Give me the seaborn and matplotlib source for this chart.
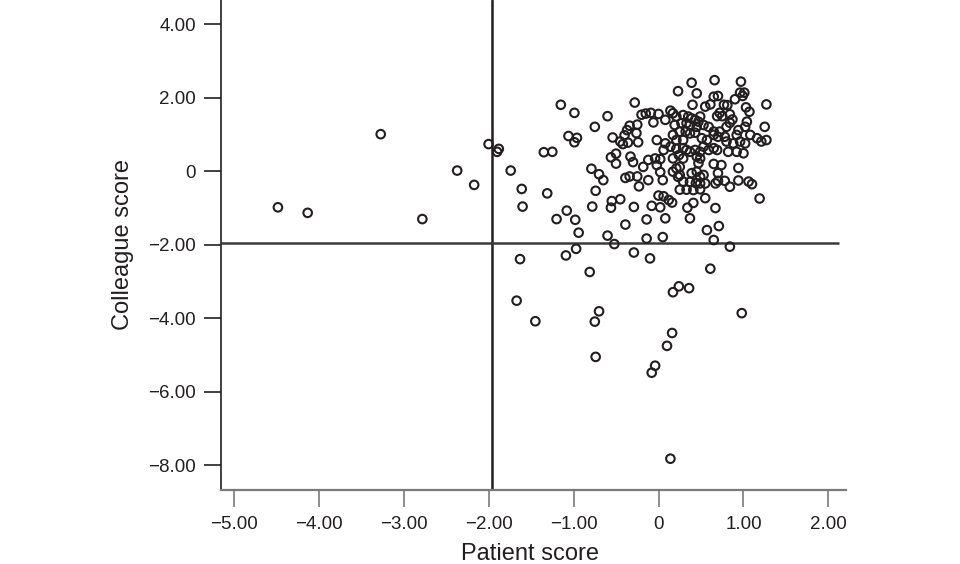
import matplotlib
matplotlib.use("Agg")
import matplotlib.pyplot as plt
import matplotlib.ticker as mticker
import seaborn as sns
import pandas as pd

# ---- data ----
patient_score = [
    -4.48, -4.13, -3.27, -2.78, -2.37, -2.17, -2.00, -1.88, -1.90, -1.74,
    -1.61, -1.60, -1.63, -1.67, -1.45, -1.35, -1.25, -1.31, -1.20, -1.08,
    -0.98, -0.94, -0.97, -1.09, -1.15, -0.99, -1.06, -0.96, -0.99, -0.79,
    -0.70, -0.65, -0.74, -0.78, -0.55, -0.45, -0.56, -0.60, -0.52, -0.81,
    -0.70, -0.75, -0.74, -0.60, -0.75, -0.28, -0.54, -0.45, -0.42, -0.36,
    -0.40, -0.37, -0.34, -0.26, -0.25, -0.24, -0.56, -0.50, -0.50, -0.33,
    -0.30, -0.20, -0.15, -0.09, -0.06, 0.00, -0.12, -0.04, -0.02, -0.18,
    -0.39, -0.34, -0.25, -0.23, -0.12, 0.02, 0.05, -0.29, -0.39, -0.08,
    0.02, -0.14, 0.08, 0.00, 0.06, 0.12, 0.16, 0.34, 0.41, 0.37,
    0.25, 0.33, 0.41, 0.49, 0.23, 0.29, 0.37, 0.44, 0.17, 0.25,
    0.21, 0.25, -0.14, 0.05, -0.29, -0.10, 0.24, 0.36, 0.17, 0.16,
    0.10, -0.04, -0.08, 0.14, 0.61, 0.84, 0.98, 0.57, 0.71, 0.65,
    0.55, 0.67, 1.19, 0.39, 0.45, 0.49, 0.53, 0.55, 0.49, 0.65,
    0.74, 0.70, 0.67, 0.70, 0.78, 0.94, 0.94, 1.06, 1.10, 0.84,
    0.39, 0.66, 0.97, 0.23, 0.45, 0.65, 0.70, 0.96, 1.01, 0.99,
    0.90, 0.40, 0.61, 0.55, 0.77, 0.81, 1.03, 1.07, 1.27, 0.72,
    0.75, 0.69, 0.84, 0.87, 0.08, 0.14, 0.17, 0.29, 0.35, 0.39,
    0.43, 0.47, 0.49, 0.27, 0.33, 0.37, 0.45, 0.53, 0.21, 0.19,
    0.25, 0.32, 0.37, 0.43, 0.84, 1.04, 1.02, 1.25, 0.59, 0.65,
    0.72, 0.80, 0.94, 0.92, 1.08, 1.16, 1.21, 1.27, 0.51, 0.57,
    0.65, 0.70, 0.78, 0.80, 0.88, 0.96, 1.02, 0.17, 0.21, 0.29,
    -0.02, 0.08, 0.14, 0.06, 0.29, 0.33, 0.37, 0.43, 0.49, 0.53,
    0.59, 0.65, 0.69, 0.82, 0.92, 1.00, 0.02, 0.17, 0.29, 0.45,
    0.49, 0.47, 0.21, 0.24,
]
colleague_score = [
    -0.98, -1.13, 1.01, -1.30, 0.02, -0.37, 0.74, 0.61, 0.53, 0.02,
    -0.48, -0.96, -2.39, -3.52, -4.08, 0.52, 0.53, -0.60, -1.30, -1.07,
    -1.32, -1.67, -2.11, -2.29, 1.81, 1.59, 0.96, 0.91, 0.79, 0.07,
    -0.08, -0.24, -0.53, -0.96, -0.81, -0.76, -0.99, -1.75, -1.98, -2.74,
    -3.81, -4.09, -5.05, 1.50, 1.21, 1.87, 0.92, 0.81, 0.74, 0.78,
    0.98, 1.12, 1.24, 1.04, 1.27, 0.79, 0.38, 0.48, 0.21, 0.40,
    0.25, 1.54, 1.57, 1.59, 1.33, 1.56, 0.31, 0.35, 0.17, 0.12,
    -0.18, -0.14, -0.14, -0.41, -0.24, -0.02, -0.24, -0.97, -1.45, -0.94,
    -0.98, -1.31, -1.28, -0.66, -0.68, -0.78, -0.85, -0.99, -0.86, -1.28,
    -0.50, -0.50, -0.51, -0.49, -0.15, -0.28, -0.29, -0.32, -0.01, 0.12,
    0.08, -0.10, -1.83, -1.79, -2.21, -2.37, -3.13, -3.18, -3.29, -4.40,
    -4.75, -5.29, -5.48, -7.82, -2.65, -2.05, -3.86, -1.60, -1.49, -1.87,
    -0.73, -1.00, -0.74, -0.05, -0.01, -0.15, -0.10, -0.33, -0.33, 0.20,
    0.17, -0.05, -0.33, -0.26, -0.26, 0.09, -0.25, -0.28, -0.35, -0.42,
    2.41, 2.48, 2.44, 2.18, 2.12, 2.03, 2.05, 2.14, 2.14, 2.05,
    1.96, 1.81, 1.82, 1.76, 1.81, 1.80, 1.74, 1.62, 1.82, 1.59,
    1.50, 1.50, 1.55, 1.41, 1.40, 1.65, 1.58, 1.53, 1.49, 1.44,
    1.40, 1.35, 1.49, 1.31, 1.31, 1.26, 1.21, 1.26, 1.49, 1.26,
    1.08, 1.08, 1.03, 1.05, 1.32, 1.35, 1.21, 1.21, 1.21, 1.08,
    1.08, 1.21, 1.12, 0.99, 0.99, 0.90, 0.81, 0.85, 0.90, 0.85,
    0.99, 0.94, 0.94, 0.81, 0.76, 0.81, 0.76, 0.99, 0.85, 0.85,
    0.85, 0.76, 0.67, 0.58, 0.63, 0.58, 0.53, 0.58, 0.53, 0.67,
    0.58, 0.63, 0.58, 0.53, 0.53, 0.49, 0.33, 0.35, 0.35, 0.40,
    0.35, 0.22, 0.61, 0.44,
]

cutoff = -1.96
x_ticks = [-5, -4, -3, -2, -1, 0, 1, 2]
y_ticks = [-8, -6, -4, -2, 0, 2, 4]
x_limits = (-5.15, 2.207)
y_limits = (-8.672, 4.661)
hline_end = 2.12

df = pd.DataFrame({"Patient score": patient_score,
                   "Colleague score": colleague_score})

# ---- styling ----
sns.set_theme(style="white")
plt.rcParams["font.family"] = ["Liberation Sans", "DejaVu Sans"]
ink = "#231f20"

fig = plt.figure(figsize=(9.6, 5.64), dpi=100)
ax = fig.add_axes([221 / 960, 74 / 564, 625 / 960, 490 / 564])

sns.scatterplot(data=df, x="Patient score", y="Colleague score", ax=ax,
                marker="o", s=38, facecolor="none", edgecolor=ink,
                linewidth=1.5, zorder=3)

ax.axvline(cutoff, color=ink, lw=1.8, zorder=2)
ax.hlines(cutoff, x_limits[0], hline_end, color="#3a3a3a", lw=1.8, zorder=2)

ax.set_xlim(*x_limits)
ax.set_ylim(*y_limits)
ax.set_xticks(x_ticks)
ax.set_yticks(y_ticks)


def fmt(v, _pos=None):
    if abs(v) < 1e-9:
        return "0"
    s = f"{v:.2f}"
    return s.replace("-", "\u2212")


ax.xaxis.set_major_formatter(mticker.FuncFormatter(fmt))
ax.yaxis.set_major_formatter(mticker.FuncFormatter(fmt))

for side in ("top", "right"):
    ax.spines[side].set_visible(False)
ax.spines["left"].set_color(ink)
ax.spines["left"].set_linewidth(1.2)
ax.spines["bottom"].set_color("#7a7a7a")
ax.spines["bottom"].set_linewidth(1.6)

ax.tick_params(axis="y", direction="out", length=12, width=1.2,
               color=ink, labelsize=13.5, labelcolor=ink, pad=6, left=True)
ax.tick_params(axis="x", direction="out", length=12, width=1.2,
               color="#7a7a7a", labelsize=13.5, labelcolor=ink, pad=7,
               bottom=True)

ax.set_xlabel("Patient score", fontsize=17, color=ink)
ax.set_ylabel("Colleague score", fontsize=17, color=ink)
ax.xaxis.set_label_coords(0.494, -0.108)
ax.yaxis.set_label_coords(-0.139, 0.5)

ax.set_facecolor("white")
fig.patch.set_facecolor("white")

fig.savefig("out.png", dpi=100)
